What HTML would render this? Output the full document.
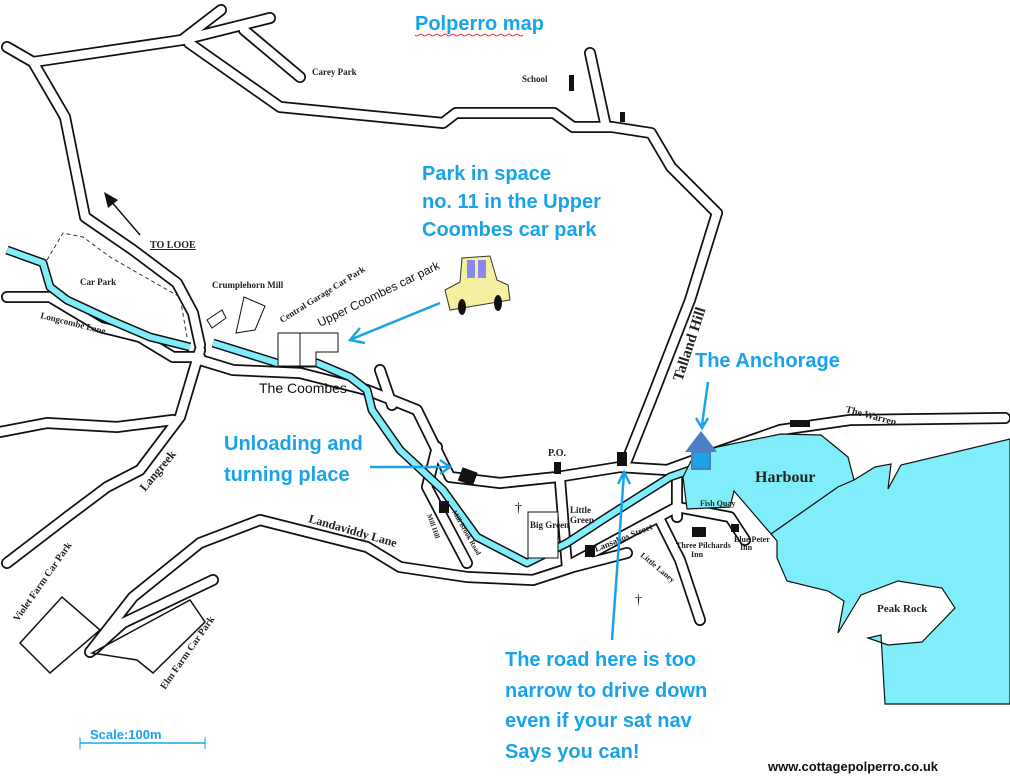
<!DOCTYPE html>
<html><head><meta charset="utf-8"><style>
html,body{margin:0;padding:0;background:#fff;}
svg{display:block}
.lbl{font-family:"Liberation Serif",serif;font-weight:bold;font-size:9px;fill:#222}
.blue{font-family:"Liberation Sans",sans-serif;font-weight:bold;font-size:20px;fill:#1aa3e8}
.rd{fill:none;stroke:#111;stroke-width:12;stroke-linejoin:round;stroke-linecap:round}
.rw{fill:none;stroke:#fff;stroke-width:8.5;stroke-linejoin:round;stroke-linecap:round}
.sb{fill:none;stroke:#111;stroke-width:9;stroke-linejoin:round;stroke-linecap:butt}
.sw{fill:none;stroke:#80edfb;stroke-width:6;stroke-linejoin:round;stroke-linecap:butt}
</style></head><body>
<svg width="1010" height="779" viewBox="0 0 1010 779" xmlns="http://www.w3.org/2000/svg">
<rect width="1010" height="779" fill="#fff"/>
<!-- roads -->
<g>
<path class="rd" d="M7,47 L33,62 L182,40 L221,10 M182,40 L270,18 M244,30 L300,77 M189,43 L280,107 L443,123 L456,113 L554,113 L573,127 L612,127 L651,133 L671,167 L717,213 L690,300 L651,400 L625,465 M590,53 L606,127 M33,62 L65,117 L85,217 L133,250 L177,283 L193,313 L200,345 M7,297 L50,297 L100,327 L140,337 L173,357 L200,357 M200,350 L180,417 L140,470 L107,487 L67,517 L7,563 M0,432 L47,423 L117,427 L173,420 M200,360 L233,370 L300,373 L367,390 L417,410 L450,477 L500,483 L557,477 L620,467 L667,470 L700,458 L780,430 L850,420 L1005,418 M90,652 L133,597 L200,543 L260,520 L367,547 L400,567 L467,577 L533,580 L573,567 L627,553 M213,580 L123,623 L93,650 M437,447 L427,487 L467,563 M560,480 L567,567 M573,563 L677,507 L730,517 L745,540 M677,517 L677,470 M660,520 L680,560 L700,620 M380,370 L392,405"/>
<path class="rw" d="M7,47 L33,62 L182,40 L221,10 M182,40 L270,18 M244,30 L300,77 M189,43 L280,107 L443,123 L456,113 L554,113 L573,127 L612,127 L651,133 L671,167 L717,213 L690,300 L651,400 L625,465 M590,53 L606,127 M33,62 L65,117 L85,217 L133,250 L177,283 L193,313 L200,345 M7,297 L50,297 L100,327 L140,337 L173,357 L200,357 M200,350 L180,417 L140,470 L107,487 L67,517 L7,563 M0,432 L47,423 L117,427 L173,420 M200,360 L233,370 L300,373 L367,390 L417,410 L450,477 L500,483 L557,477 L620,467 L667,470 L700,458 L780,430 L850,420 L1005,418 M90,652 L133,597 L200,543 L260,520 L367,547 L400,567 L467,577 L533,580 L573,567 L627,553 M213,580 L123,623 L93,650 M437,447 L427,487 L467,563 M560,480 L567,567 M573,563 L677,507 L730,517 L745,540 M677,517 L677,470 M660,520 L680,560 L700,620 M380,370 L392,405"/>
</g>
<!-- streams -->
<path class="sb" d="M7,250 L43,263 L50,287 L67,300 L110,320 L150,337 L190,347"/>
<path class="sw" d="M7,250 L43,263 L50,287 L67,300 L110,320 L150,337 L190,347"/>
<path class="sb" d="M213,343 L277,363 L317,363 L350,377 L367,390 L372,410 L400,450 L443,490 L477,537 L527,563 L567,543 L607,517 L670,477 L690,470"/>
<path class="sw" d="M213,343 L277,363 L317,363 L350,377 L367,390 L372,410 L400,450 L443,490 L477,537 L527,563 L567,543 L607,517 L670,477 L690,470"/>
<!-- harbour -->
<path d="M683,477 L693,457 L717,447 L781,434 L821,435 L848,457 L854,480 L838,487 L771,534 L734,491 L730,507 L687,509Z" fill="#80edfb" stroke="#111" stroke-width="1.2"/>
<path d="M854,480 L875,467 L891,464 L888,489 L901,465 L1010,439 L1010,704 L885,704 L881,635 L868,638 L888,645 L922,642 L955,608 L942,588 L898,581 L861,595 L838,633 L844,601 L828,591 L787,581 L777,558 L777,541 L771,534 L838,487Z" fill="#80edfb" stroke="#111" stroke-width="1.2"/>
<!-- car parks -->
<path d="M20,643 L62,597 L100,630 L50,673Z" fill="none" stroke="#111" stroke-width="1.5"/>
<path d="M92,653 L190,600 L205,622 L153,673 L137,660Z" fill="none" stroke="#111" stroke-width="1.5"/>
<path d="M47,260 L63,233 L83,237 L110,257 L150,280 L180,297 L187,337" fill="none" stroke="#333" stroke-dasharray="4,3"/>
<rect x="278" y="333" width="22" height="33" fill="#fff" stroke="#111"/>
<path d="M300,333 L338,333 L338,352 L316,352 L316,366 L300,366Z" fill="#fff" stroke="#111"/>
<rect x="528" y="512" width="30" height="46" fill="#fff" stroke="#111"/>
<path d="M244,297 L265,306 L255,330 L236,333Z" fill="#fff" stroke="#111"/>
<path d="M207,320 L222,310 L226,318 L212,328Z" fill="#fff" stroke="#111"/>
<!-- buildings -->
<g fill="#111">
<rect x="460" y="470" width="16" height="14" transform="rotate(20 469 476)"/>
<rect x="439" y="501" width="10" height="12"/>
<rect x="554" y="462" width="7" height="12"/>
<rect x="617" y="452" width="10" height="14"/>
<rect x="585" y="545" width="10" height="12"/>
<rect x="692" y="527" width="14" height="10"/>
<rect x="731" y="524" width="8" height="8"/>
<rect x="790" y="420" width="20" height="7"/>
<rect x="569" y="75" width="5" height="16"/>
<rect x="620" y="112" width="5" height="10"/>
</g>
<!-- arrow to looe -->
<line x1="140" y1="235" x2="110" y2="200" stroke="#111" stroke-width="1.5"/>
<polygon points="104,192 118,200 108,208" fill="#111"/>
<!-- labels -->
<text class="lbl" x="312" y="75">Carey Park</text>
<text class="lbl" x="522" y="82">School</text>
<text class="lbl" x="150" y="248" text-decoration="underline" style="font-size:10px">TO LOOE</text>
<text class="lbl" x="80" y="285">Car Park</text>
<text class="lbl" x="212" y="288">Crumplehorn Mill</text>
<text class="lbl" transform="translate(282,323) rotate(-32)">Central Garage Car Park</text>
<text class="lbl" transform="translate(40,318) rotate(14)">Longcombe Lane</text>
<text x="259" y="393" font-family="Liberation Sans" font-size="14" fill="#111">The Coombes</text>
<text font-family="Liberation Sans" font-size="12" fill="#111" transform="translate(320,327) rotate(-26)">Upper Coombes car park</text>
<text class="lbl" style="font-size:15px" transform="translate(682,382) rotate(-72)">Talland Hill</text>
<text class="lbl" style="font-size:12px" transform="translate(145,492) rotate(-50)">Langreek</text>
<text class="lbl" style="font-size:12px" transform="translate(308,522) rotate(16)">Landaviddy Lane</text>
<text class="lbl" x="548" y="456" style="font-size:10px">P.O.</text>
<text class="lbl" x="530" y="528">Big Green</text>
<text class="lbl" x="570" y="513">Little</text><text class="lbl" x="570" y="523">Green</text>
<text class="lbl" transform="translate(596,552) rotate(-22)">Lansallos Street</text>
<text class="lbl" style="font-size:16px" x="755" y="482">Harbour</text>
<text class="lbl" x="700" y="506" style="font-size:8px">Fish Quay</text>
<text class="lbl" x="676" y="548" style="font-size:8px">Three Pilchards</text><text class="lbl" x="691" y="557" style="font-size:8px">Inn</text>
<text class="lbl" x="734" y="542" style="font-size:8px">Blue Peter</text><text class="lbl" x="740" y="550" style="font-size:8px">Inn</text>
<text class="lbl" style="font-size:10px" transform="translate(845,412) rotate(15)">The Warren</text>
<text class="lbl" style="font-size:11px" x="877" y="612">Peak Rock</text>
<text class="lbl" style="font-size:8px" transform="translate(640,556) rotate(40)">Little Laney</text>
<text class="lbl" style="font-size:7px" transform="translate(427,515) rotate(70)">Mill Hill</text>
<text class="lbl" style="font-size:7px" transform="translate(452,512) rotate(60)">Mill Brook Road</text>
<text class="lbl" style="font-size:10px" transform="translate(18,622) rotate(-55)">Violet Farm Car Park</text>
<text class="lbl" style="font-size:10px" transform="translate(165,690) rotate(-55)">Elm Farm Car Park</text>
<text x="635" y="604" font-size="14" fill="#111">†</text>
<text x="515" y="512" font-size="14" fill="#111">†</text>
<!-- car -->
<g>
<path d="M462,258 L490,256 L497,280 L508,285 L510,300 L450,310 L445,290 L460,282Z" fill="#f5f0a0" stroke="#333"/>
<rect x="467" y="260" width="8" height="18" fill="#8888ee"/>
<rect x="478" y="260" width="8" height="18" fill="#8888ee"/>
<ellipse cx="462" cy="307" rx="4" ry="8" fill="#111"/>
<ellipse cx="498" cy="303" rx="4" ry="8" fill="#111"/>
</g>
<!-- blue annotations -->
<g stroke="#1aa3e8" stroke-width="2.5" fill="none">
<line x1="440" y1="303" x2="352" y2="339"/>
<polyline points="360,328 350,340 365,343"/>
<line x1="370" y1="467" x2="448" y2="467"/>
<polyline points="440,460 450,467 440,474"/>
<line x1="612" y1="640" x2="624" y2="473"/>
<polyline points="618,484 624,472 630,484"/>
<line x1="708" y1="382" x2="702" y2="425"/>
<polyline points="696,418 702,428 708,418"/>
</g>
<polygon points="701,431 685,452 717,452" fill="#4a7fc4"/>
<rect x="692" y="452" width="18" height="17" fill="#1aa3e8" stroke="#4a7fc4" stroke-width="2"/>
<text class="blue" x="415" y="30">Polperro map</text>
<path d="M415,35 q2,2 4,0 t4,0 t4,0 t4,0 t4,0 t4,0 t4,0 t4,0 t4,0 t4,0 t4,0 t4,0 t4,0 t4,0 t4,0 t4,0 t4,0 t4,0 t4,0 t4,0 t4,0 t4,0 t4,0 t4,0 t4,0 t4,0 t4,0" stroke="#d00" stroke-width="0.8" fill="none"/>
<text class="blue" x="422" y="180">Park in space</text>
<text class="blue" x="422" y="208">no. 11 in the Upper</text>
<text class="blue" x="422" y="236">Coombes car park</text>
<text class="blue" x="695" y="367">The Anchorage</text>
<text class="blue" x="224" y="450">Unloading and</text>
<text class="blue" x="224" y="481">turning place</text>
<text class="blue" x="505" y="666">The road here is too</text>
<text class="blue" x="505" y="697">narrow to drive down</text>
<text class="blue" x="505" y="727">even if your sat nav</text>
<text class="blue" x="505" y="758">Says you can!</text>
<text x="90" y="739" font-family="Liberation Sans" font-weight="bold" font-size="13" fill="#1aa3e8">Scale:100m</text>
<line x1="80" y1="743" x2="205" y2="743" stroke="#1aa3e8" stroke-width="1.5"/>
<line x1="80" y1="737" x2="80" y2="749" stroke="#1aa3e8"/>
<line x1="205" y1="737" x2="205" y2="749" stroke="#1aa3e8"/>
<text x="768" y="771" font-family="Liberation Sans" font-weight="bold" font-size="13" fill="#111">www.cottagepolperro.co.uk</text>
</svg>
</body></html>
